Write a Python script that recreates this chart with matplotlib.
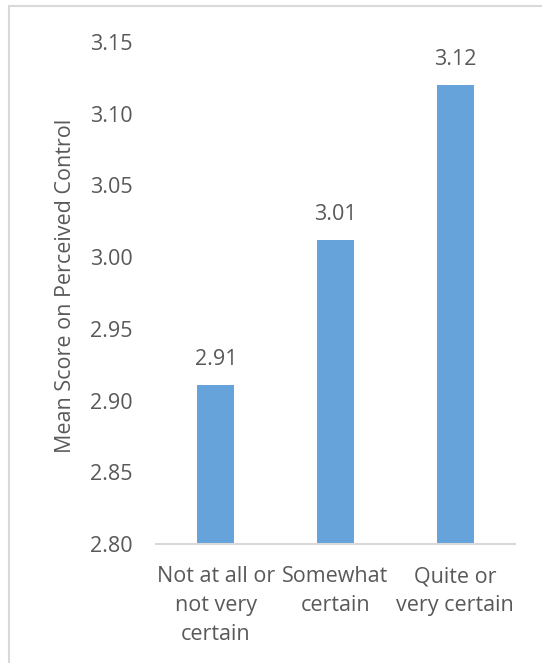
import matplotlib
matplotlib.use("Agg")
import matplotlib.pyplot as plt
from matplotlib.patches import Rectangle

categories = ["Not at all or\nnot very\ncertain", "Somewhat\ncertain", "Quite or\nvery certain"]
values = [2.911, 3.012, 3.12]
yticks = [2.80, 2.85, 2.90, 2.95, 3.00, 3.05, 3.10, 3.15]
ylabel = "Mean Score on Perceived Control"

W, H = 542, 663
DPI = 100
plt.rcParams['font.family'] = ['Open Sans', 'DejaVu Sans']
TXT = '#595959'
BAR = '#65A3DA'
FS = 15.5

fig = plt.figure(figsize=(W / DPI, H / DPI), dpi=DPI)
fig.patch.set_facecolor('white')
fig.patches.append(Rectangle((9 / W, -0.1), 1.2, (H - 6) / H + 0.1, transform=fig.transFigure,
                             fill=False, edgecolor='#D9D9D9', linewidth=1.5))

ax = fig.add_axes([156 / W, (H - 544) / H, (515 - 156) / W, (544 - 42) / H])
x = list(range(len(categories)))
ax.bar(x, values, width=0.31, color=BAR, zorder=2)
ax.set_xlim(-0.5, len(categories) - 0.5)
ax.set_ylim(2.80, 3.15)
ax.set_yticks(yticks)
ax.set_yticklabels([f"{t:.2f}" for t in yticks], color=TXT, fontsize=FS)
ax.set_xticks(x)
ax.set_xticklabels(categories, color=TXT, fontsize=FS, linespacing=1.5)
ax.tick_params(axis='y', length=0, pad=17)
ax.tick_params(axis='x', length=0, pad=16)
for s in ['top', 'right', 'left']:
    ax.spines[s].set_visible(False)
ax.spines['bottom'].set_color('#D9D9D9')
ax.spines['bottom'].set_linewidth(1.5)
ax.spines['bottom'].set_zorder(3)
ax.set_facecolor('none')

for xi, v in zip(x, values):
    ax.annotate(f"{v:.2f}", (xi, v), xytext=(0, 10.5), textcoords='offset points',
                ha='center', va='bottom', color=TXT, fontsize=FS)

fig.text(66 / W, 1 - 286 / H, ylabel, rotation=90, ha='center', va='center', color=TXT, fontsize=FS)

fig.savefig("out.png", dpi=DPI)
